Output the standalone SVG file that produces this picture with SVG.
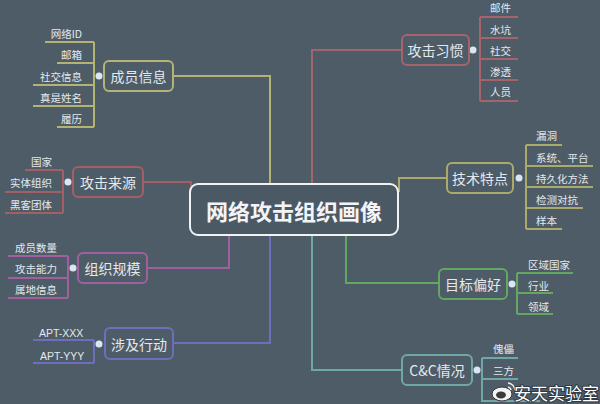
<svg xmlns="http://www.w3.org/2000/svg" width="600" height="404" viewBox="0 0 600 404">
<style>
text{font-family:"Noto Sans CJK SC","Noto Sans",sans-serif;fill:#e4e9ec;dominant-baseline:central}
.n{font-size:14px;text-anchor:middle}
.l{font-size:10.5px}
.r{text-anchor:end}
.box{fill:#4e5c68;stroke-width:2}
.ln{fill:none;stroke-width:2}
.dot{fill:#dde5f2}
.c1{stroke:#b3b374}.c2{stroke:#a5646c}.c3{stroke:#a9aa6c}.c4{stroke:#a35f63}
.c5{stroke:#a0609f}.c6{stroke:#6c6fbb}.c7{stroke:#70a8a8}.c8{stroke:#62a862}
</style>
<rect width="600" height="404" fill="#4e5c68"/>
<g id="connectors">
<path class="ln c1" d="M173,76H270V185"/>
<path class="ln c2" d="M402,50H312V185"/>
<path class="ln c3" d="M447,178H399V192"/>
<path class="ln c4" d="M143,182H191V190"/>
<path class="ln c5" d="M147,268H229V234"/>
<path class="ln c6" d="M173,343H270V234"/>
<path class="ln c7" d="M402,370H312V234"/>
<path class="ln c8" d="M439,283H346V234"/>
<!-- 成员信息 leaves -->
<path class="ln c1" d="M94,42V127M45,42H94M57,63H94M33,85H94M33,106H94M57,127H94"/>
<!-- 攻击习惯 leaves -->
<path class="ln c2" d="M480,17V101M480,17H518M480,38H518M480,59H518M480,80H518M480,101H518"/>
<!-- 技术特点 leaves -->
<path class="ln c3" d="M526,145V229M526,145H562M526,166H593M526,187H593M526,208H583M526,229H562"/>
<!-- 攻击来源 leaves -->
<path class="ln c4" d="M63,170V213M25,170H63M5,192H63M5,213H63"/>
<!-- 组织规模 leaves -->
<path class="ln c5" d="M68,256V298M8,256H68M8,278H68M8,298H68"/>
<!-- 涉及行动 leaves -->
<path class="ln c6" d="M94,340V363M33,340H94M33,363H94"/>
<!-- 目标偏好 leaves -->
<path class="ln c8" d="M517,273V314M517,273H573M517,293H553M517,314H553"/>
<!-- C&C leaves -->
<path class="ln c7" d="M482,358V402M482,358H518M482,379H518M482,401H540"/>
<circle class="dot" cx="99" cy="76" r="3.5"/>
<circle class="dot" cx="473" cy="50" r="3.5"/>
<circle class="dot" cx="519" cy="178" r="3.5"/>
<circle class="dot" cx="68" cy="182" r="3.5"/>
<circle class="dot" cx="73" cy="268" r="3.5"/>
<circle class="dot" cx="99" cy="344" r="3.5"/>
<circle class="dot" cx="512" cy="284" r="3.5"/>
<circle class="dot" cx="477" cy="370" r="3.5"/>
</g>
<g id="central">
<rect x="190" y="184" width="208" height="51" rx="8" fill="#4b5965" stroke="#f0f3f5" stroke-width="2"/>
<text x="294" y="210" style="font-size:22px;font-weight:bold;text-anchor:middle;fill:#f2f4f6">网络攻击组织画像</text>
</g>
<g id="n-member"><rect class="box c1" x="104" y="61" width="69" height="30" rx="5"/><text class="n" x="138.5" y="76">成员信息</text></g>
<g id="n-source"><rect class="box c4" x="73" y="167" width="70" height="30" rx="5"/><text class="n" x="108" y="182">攻击来源</text></g>
<g id="n-scale"><rect class="box c5" x="78" y="253" width="69" height="30" rx="5"/><text class="n" x="112.5" y="268">组织规模</text></g>
<g id="n-action"><rect class="box c6" x="105" y="328" width="68" height="31" rx="5"/><text class="n" x="139" y="343.5">涉及行动</text></g>
<g id="n-habit"><rect class="box c2" x="402" y="35" width="67" height="30" rx="5"/><text class="n" x="435.5" y="50">攻击习惯</text></g>
<g id="n-tech"><rect class="box c3" x="447" y="163" width="66" height="30" rx="5"/><text class="n" x="480" y="178">技术特点</text></g>
<g id="n-target"><rect class="box c8" x="439" y="269" width="68" height="30" rx="5"/><text class="n" x="473" y="284">目标偏好</text></g>
<g id="n-cc"><rect class="box c7" x="402" y="355" width="70" height="30" rx="5"/><text class="n" x="437" y="370">C&amp;C情况</text></g>
<g id="leaves-member">
<text class="l r" x="82" y="33">网络ID</text>
<text class="l r" x="82" y="54">邮箱</text>
<text class="l r" x="82" y="76">社交信息</text>
<text class="l r" x="82" y="97">真是姓名</text>
<text class="l r" x="82" y="118">履历</text>
</g>
<g id="leaves-habit">
<text class="l" x="490" y="7">邮件</text>
<text class="l" x="490" y="29">水坑</text>
<text class="l" x="490" y="50">社交</text>
<text class="l" x="490" y="71">渗透</text>
<text class="l" x="490" y="91">人员</text>
</g>
<g id="leaves-tech">
<text class="l" x="536" y="135">漏洞</text>
<text class="l" x="536" y="157">系统、平台</text>
<text class="l" x="536" y="178">持久化方法</text>
<text class="l" x="536" y="199">检测对抗</text>
<text class="l" x="536" y="220">样本</text>
</g>
<g id="leaves-source">
<text class="l r" x="52" y="161">国家</text>
<text class="l r" x="52" y="182">实体组织</text>
<text class="l r" x="52" y="204">黑客团体</text>
</g>
<g id="leaves-scale">
<text class="l r" x="57" y="247">成员数量</text>
<text class="l r" x="57" y="268">攻击能力</text>
<text class="l r" x="57" y="289">属地信息</text>
</g>
<g id="leaves-action">
<text class="l" x="39" y="333" style="font-family:'Liberation Sans',sans-serif">APT-XXX</text>
<text class="l" x="40" y="356" style="font-family:'Liberation Sans',sans-serif">APT-YYY</text>
</g>
<g id="leaves-target">
<text class="l" x="528" y="264">区域国家</text>
<text class="l" x="528" y="285">行业</text>
<text class="l" x="528" y="306">领域</text>
</g>
<g id="leaves-cc">
<text class="l" x="493" y="348">傀儡</text>
<text class="l" x="493" y="370">三方</text>
</g>
<g id="watermark">
<ellipse cx="502" cy="394" rx="10" ry="7" fill="#f2f2f2" stroke="#333" stroke-width="1"/>
<ellipse cx="501" cy="395" rx="5" ry="3.5" fill="#3a3a3a"/>
<path d="M508,383a8,8 0 0 1 7,7M508,387a4,4 0 0 1 3,3" fill="none" stroke="#f2f2f2" stroke-width="1.6"/>
<text x="514" y="392" style="font-size:17px;fill:#ffffff;stroke:#2f3a44;stroke-width:2;paint-order:stroke">安天实验室</text>
</g>
</svg>
